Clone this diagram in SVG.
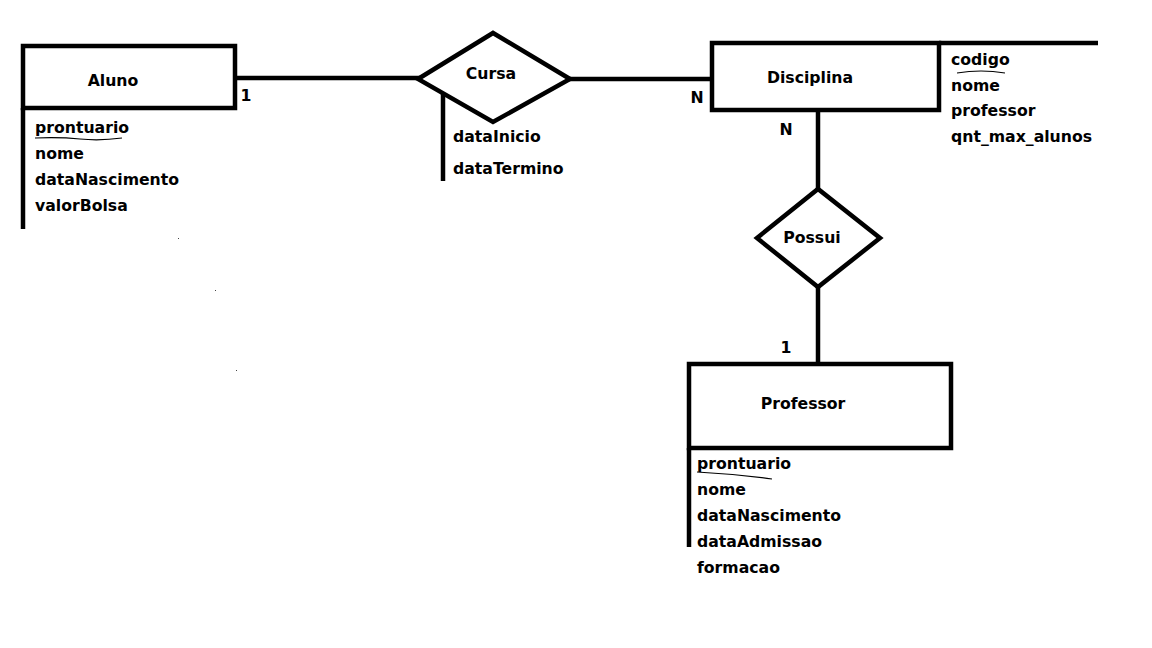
<svg xmlns="http://www.w3.org/2000/svg" width="1152" height="648" viewBox="0 0 1152 648">
<style>
.box{fill:none;stroke:#000;stroke-width:4.5}
.ln{fill:none;stroke:#000;stroke-width:4.5}
.ul{fill:none;stroke:#000;stroke-width:1.2}
text{font-family:"DejaVu Sans","Liberation Sans",sans-serif;font-weight:bold;font-size:15.7px;fill:#000}
.c{text-anchor:middle}
</style>
<rect width="1152" height="648" fill="#fff"/>
<g id="connectors">
<line class="ln" x1="235" y1="78" x2="420" y2="78"/>
<line class="ln" x1="568" y1="79" x2="712" y2="79"/>
<line class="ln" x1="818" y1="110" x2="818" y2="190"/>
<line class="ln" x1="818" y1="286" x2="818" y2="364"/>
<text x="246" y="101" class="c">1</text>
<text x="697" y="103" class="c">N</text>
<text x="786" y="135" class="c">N</text>
<text x="786" y="353" class="c">1</text>
</g>
<g id="aluno">
<rect class="box" x="23" y="46" width="212" height="62"/>
<line class="ln" x1="23" y1="108" x2="23" y2="229"/>
<text x="113" y="86" class="c">Aluno</text>
<text x="35" y="133">prontuario</text>
<path class="ul" d="M35 138 Q60 137 80 139 T122 138"/>
<text x="35" y="159">nome</text>
<text x="35" y="185">dataNascimento</text>
<text x="35" y="211">valorBolsa</text>
</g>
<g id="cursa">
<polygon class="box" points="418,79 493,33 570,79 493,122"/>
<line class="ln" x1="443" y1="94" x2="443" y2="181"/>
<text x="491" y="79" class="c">Cursa</text>
<text x="453" y="142">dataInicio</text>
<text x="453" y="174">dataTermino</text>
</g>
<g id="disciplina">
<rect class="box" x="712" y="43" width="227" height="67"/>
<line class="ln" x1="939" y1="43" x2="1098" y2="43"/>
<text x="810" y="83" class="c">Disciplina</text>
<text x="951" y="65">codigo</text>
<path class="ul" d="M957 73 Q981 69 1005 73"/>
<text x="951" y="91">nome</text>
<text x="951" y="116">professor</text>
<text x="951" y="142">qnt_max_alunos</text>
</g>
<g id="possui">
<polygon class="box" points="757,238 818,189 880,238 818,287"/>
<text x="812" y="243" class="c">Possui</text>
</g>
<g id="professor">
<rect class="box" x="689" y="364" width="262" height="84"/>
<line class="ln" x1="689" y1="448" x2="689" y2="547"/>
<text x="803" y="409" class="c">Professor</text>
<text x="697" y="469">prontuario</text>
<path class="ul" d="M697 472 Q735 474 772 479"/>
<text x="697" y="495">nome</text>
<text x="697" y="521">dataNascimento</text>
<text x="697" y="547">dataAdmissao</text>
<text x="697" y="573">formacao</text>
</g>
<g id="specks" fill="#444">
<rect x="178" y="238" width="1" height="1"/>
<rect x="215" y="290" width="1" height="1"/>
<rect x="236" y="370" width="1" height="1"/>
</g>
</svg>
